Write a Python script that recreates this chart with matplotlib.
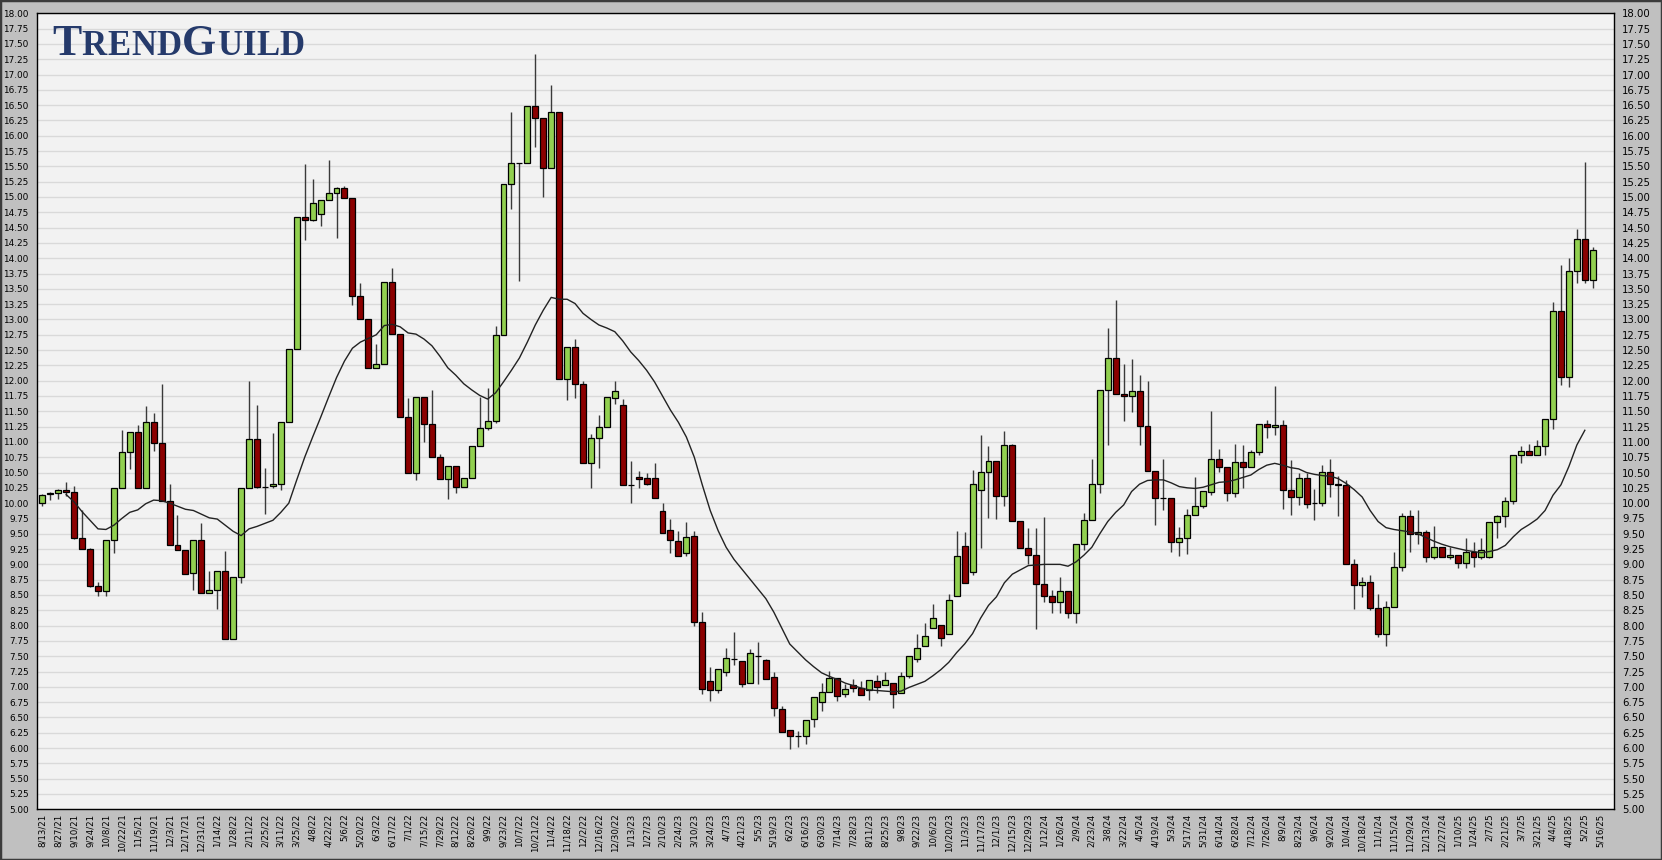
import matplotlib
matplotlib.use("Agg")
import matplotlib.pyplot as plt
import matplotlib.patches as patches
import numpy as np
import pandas as pd

# weekly candles (open, high, low, close)
opens = [10.00, 10.15, 10.17, 10.22, 10.18, 9.43, 9.25, 8.64, 8.57, 9.39,
         10.24, 10.83, 11.16, 10.24, 11.32, 10.98, 10.04, 9.32, 9.23, 8.86,
         9.39, 8.53, 8.58, 8.90, 7.78, 8.79, 10.24, 11.04, 10.27, 10.28,
         10.31, 11.32, 12.51, 14.67, 14.63, 14.72, 14.95, 15.06, 15.14, 14.98,
         13.39, 13.00, 12.20, 12.28, 13.61, 12.76, 11.40, 10.49, 11.73, 11.29,
         10.75, 10.39, 10.60, 10.27, 10.41, 10.93, 11.22, 11.34, 12.74, 15.21,
         15.55, 15.55, 16.48, 16.29, 15.47, 16.39, 12.02, 12.55, 11.94, 10.65,
         11.06, 11.24, 11.72, 11.60, 10.30, 10.43, 10.41, 10.41, 9.87, 9.56,
         9.38, 9.18, 9.47, 8.06, 7.10, 6.95, 7.24, 7.46, 7.43, 7.06,
         7.51, 7.44, 7.16, 6.64, 6.30, 6.20, 6.20, 6.47, 6.76, 6.92,
         7.14, 6.89, 7.03, 6.98, 6.95, 7.10, 7.03, 7.06, 6.90, 7.18,
         7.45, 7.66, 7.96, 8.01, 7.87, 8.48, 9.30, 8.88, 10.22, 10.51,
         10.69, 10.12, 10.95, 9.71, 9.27, 9.15, 8.68, 8.48, 8.38, 8.56,
         8.20, 9.33, 9.72, 10.31, 11.85, 12.37, 11.79, 11.75, 11.83, 11.26,
         10.52, 10.08, 10.08, 9.36, 9.43, 9.80, 9.96, 10.18, 10.72, 10.59,
         10.16, 10.68, 10.59, 10.83, 11.30, 11.24, 11.27, 10.21, 10.10, 10.41,
         10.00, 10.00, 10.51, 10.32, 10.29, 9.00, 8.66, 8.72, 8.28, 7.86,
         8.30, 8.95, 9.79, 9.49, 9.53, 9.12, 9.28, 9.12, 9.16, 9.02,
         9.20, 9.12, 9.12, 9.69, 9.79, 10.03, 10.78, 10.85, 10.79, 10.94,
         11.37, 13.13, 12.06, 13.79, 14.31, 13.64]
highs = [10.15, 10.18, 10.23, 10.34, 10.28, 9.89, 9.26, 8.72, 9.39, 10.24,
         11.19, 11.16, 11.27, 11.59, 11.48, 11.94, 10.32, 9.81, 9.24, 9.39,
         9.67, 8.89, 8.90, 9.22, 8.79, 10.24, 12.00, 11.61, 10.57, 11.14,
         11.32, 12.51, 14.67, 15.54, 15.29, 14.95, 15.60, 15.17, 15.18, 14.98,
         13.60, 13.00, 12.60, 13.61, 13.84, 12.76, 11.72, 11.73, 11.73, 11.85,
         10.80, 10.60, 10.60, 10.41, 10.93, 11.73, 11.88, 12.89, 15.21, 16.39,
         15.56, 16.48, 17.33, 16.29, 16.83, 16.39, 12.55, 12.68, 12.00, 11.13,
         11.44, 11.73, 12.00, 11.70, 10.69, 10.52, 10.50, 10.66, 10.01, 9.74,
         9.55, 9.70, 9.55, 8.23, 7.32, 7.29, 7.63, 7.89, 7.43, 7.61,
         7.73, 7.46, 7.25, 6.68, 6.30, 6.28, 6.46, 6.83, 7.06, 7.26,
         7.14, 7.04, 7.12, 7.10, 7.11, 7.20, 7.24, 7.06, 7.24, 7.50,
         7.87, 8.04, 8.35, 8.01, 8.52, 9.55, 9.53, 10.54, 11.11, 10.94,
         10.69, 11.18, 10.97, 9.71, 9.60, 9.60, 9.77, 8.58, 8.80, 8.56,
         9.33, 9.84, 10.72, 11.85, 12.86, 13.32, 12.28, 12.36, 12.10, 11.99,
         10.52, 10.72, 10.08, 9.61, 9.90, 10.42, 10.20, 11.51, 10.88, 10.59,
         10.96, 10.95, 10.86, 11.30, 11.36, 11.91, 11.35, 10.70, 10.50, 10.50,
         10.23, 10.63, 10.72, 10.45, 10.37, 9.09, 8.80, 8.82, 8.52, 8.40,
         9.20, 9.84, 9.88, 9.88, 9.56, 9.62, 9.28, 9.28, 9.16, 9.43,
         9.36, 9.43, 9.69, 9.80, 10.10, 10.78, 10.94, 10.97, 11.03, 11.37,
         13.28, 13.89, 14.01, 14.47, 15.57, 14.18]
lows = [9.95, 10.05, 10.06, 10.11, 9.42, 9.25, 8.63, 8.48, 8.48, 9.18,
        10.24, 10.55, 10.24, 10.24, 10.85, 10.04, 9.32, 9.23, 8.84, 8.58,
        8.53, 8.53, 8.27, 7.78, 7.78, 8.70, 10.24, 10.25, 9.83, 10.24,
        10.21, 11.32, 12.51, 14.30, 14.60, 14.53, 14.95, 14.33, 14.98, 13.24,
        13.00, 12.20, 12.20, 12.28, 12.76, 11.40, 10.49, 10.38, 11.00, 10.75,
        10.39, 10.07, 10.17, 10.27, 10.41, 10.93, 11.20, 11.31, 12.74, 14.80,
        13.63, 15.55, 15.81, 15.00, 15.47, 12.02, 11.68, 11.71, 10.65, 10.24,
        10.58, 11.24, 11.62, 10.29, 10.00, 10.25, 10.30, 10.08, 9.51, 9.19,
        9.14, 9.14, 8.00, 6.89, 6.77, 6.90, 7.18, 7.36, 7.00, 7.06,
        7.05, 7.13, 6.53, 6.26, 5.98, 6.02, 6.06, 6.35, 6.60, 6.92,
        6.77, 6.83, 6.91, 6.86, 6.78, 6.90, 7.03, 6.66, 6.90, 7.14,
        7.40, 7.66, 7.96, 7.66, 7.87, 8.48, 8.69, 8.83, 9.26, 9.76,
        9.74, 9.95, 9.71, 9.27, 9.00, 7.94, 8.38, 8.20, 8.20, 8.12,
        8.05, 9.24, 9.72, 10.17, 10.95, 11.79, 11.34, 11.49, 10.95, 10.52,
        9.64, 9.88, 9.20, 9.13, 9.17, 9.80, 9.92, 10.14, 10.51, 10.04,
        10.10, 10.25, 10.59, 10.79, 11.07, 11.12, 9.90, 9.80, 9.97, 9.92,
        9.72, 9.96, 10.10, 9.79, 9.00, 8.27, 8.46, 8.25, 7.82, 7.66,
        8.30, 8.90, 9.20, 9.33, 9.04, 9.08, 9.12, 9.08, 8.94, 8.94,
        8.96, 9.08, 9.10, 9.43, 9.61, 9.98, 10.66, 10.79, 10.78, 10.79,
        11.21, 11.93, 11.90, 13.59, 13.60, 13.52]
closes = [10.14, 10.17, 10.22, 10.18, 9.43, 9.25, 8.64, 8.57, 9.39, 10.24,
          10.83, 11.16, 10.24, 11.32, 10.98, 10.04, 9.32, 9.23, 8.84, 9.39,
          8.53, 8.58, 8.90, 7.78, 8.79, 10.24, 11.04, 10.26, 10.26, 10.31,
          11.32, 12.51, 14.67, 14.63, 14.90, 14.95, 15.06, 15.14, 14.98, 13.39,
          13.00, 12.20, 12.28, 13.61, 12.76, 11.40, 10.49, 11.73, 11.29, 10.75,
          10.39, 10.60, 10.27, 10.41, 10.93, 11.22, 11.34, 12.74, 15.21, 15.55,
          15.55, 16.48, 16.29, 15.47, 16.39, 12.02, 12.55, 11.94, 10.65, 11.06,
          11.24, 11.73, 11.83, 10.29, 10.30, 10.39, 10.31, 10.08, 9.51, 9.39,
          9.14, 9.44, 8.06, 6.96, 6.95, 7.29, 7.47, 7.46, 7.04, 7.55,
          7.51, 7.13, 6.65, 6.26, 6.20, 6.20, 6.46, 6.83, 6.91, 7.14,
          6.85, 6.96, 6.98, 6.86, 7.11, 6.99, 7.11, 6.88, 7.18, 7.50,
          7.63, 7.83, 8.12, 7.80, 8.42, 9.14, 8.69, 10.31, 10.51, 10.69,
          10.12, 10.95, 9.71, 9.27, 9.15, 8.68, 8.48, 8.38, 8.56, 8.20,
          9.33, 9.72, 10.31, 11.85, 12.37, 11.79, 11.75, 11.83, 11.26, 10.52,
          10.08, 10.08, 9.36, 9.43, 9.80, 9.96, 10.20, 10.72, 10.59, 10.16,
          10.68, 10.59, 10.83, 11.30, 11.24, 11.27, 10.21, 10.10, 10.41, 9.99,
          10.00, 10.51, 10.32, 10.29, 9.00, 8.66, 8.72, 8.28, 7.86, 8.30,
          8.95, 9.79, 9.49, 9.53, 9.12, 9.28, 9.12, 9.16, 9.02, 9.20,
          9.12, 9.23, 9.69, 9.79, 10.03, 10.78, 10.85, 10.79, 10.94, 11.37,
          13.13, 12.06, 13.79, 14.31, 13.64, 14.13]

# moving average line as drawn on the chart (starts at week 3, ends at week 194)
ma_start = 3
ma_values = [10.14, 10.02, 9.86, 9.72, 9.58, 9.57, 9.64, 9.75, 9.85, 9.89,
             9.99, 10.05, 10.04, 10.00, 9.95, 9.90, 9.88, 9.82, 9.76, 9.74,
             9.64, 9.54, 9.47, 9.58, 9.62, 9.67, 9.72, 9.85, 10.00, 10.38,
             10.75, 11.08, 11.40, 11.73, 12.05, 12.32, 12.53, 12.63, 12.69, 12.75,
             12.90, 12.92, 12.88, 12.78, 12.76, 12.68, 12.57, 12.40, 12.21, 12.09,
             11.95, 11.85, 11.76, 11.70, 11.80, 11.98, 12.17, 12.37, 12.63, 12.91,
             13.15, 13.36, 13.33, 13.33, 13.26, 13.10, 13.00, 12.91, 12.86, 12.80,
             12.65, 12.47, 12.33, 12.17, 11.98, 11.75, 11.52, 11.32, 11.08, 10.75,
             10.30, 9.88, 9.55, 9.28, 9.08, 8.92, 8.76, 8.60, 8.44, 8.22,
             7.96, 7.70, 7.57, 7.44, 7.33, 7.23, 7.17, 7.12, 7.06, 7.02,
             6.98, 6.95, 6.94, 6.93, 6.92, 6.93, 6.99, 7.04, 7.09, 7.18,
             7.28, 7.40, 7.56, 7.70, 7.87, 8.12, 8.33, 8.47, 8.70, 8.84,
             8.91, 8.98, 8.99, 9.00, 9.00, 9.00, 8.97, 9.04, 9.15, 9.28,
             9.50, 9.70, 9.85, 9.97, 10.19, 10.31, 10.37, 10.38, 10.38, 10.33,
             10.27, 10.25, 10.24, 10.26, 10.30, 10.34, 10.35, 10.38, 10.42, 10.46,
             10.55, 10.62, 10.65, 10.62, 10.58, 10.56, 10.50, 10.47, 10.45, 10.44,
             10.40, 10.32, 10.22, 10.10, 9.88, 9.70, 9.60, 9.57, 9.55, 9.53,
             9.50, 9.44, 9.38, 9.33, 9.29, 9.26, 9.23, 9.21, 9.19, 9.21,
             9.24, 9.31, 9.45, 9.57, 9.65, 9.74, 9.88, 10.13, 10.30, 10.60,
             10.95, 11.19]

week_dates = pd.date_range("2021-08-13", periods=197, freq="7D")
tick_labels = [f"{d.month}/{d.day}/{d.year % 100}" for d in week_dates[::2]]
price_ticks = np.arange(5.0, 18.01, 0.25)

GREEN = "#92d050"
RED = "#8b0000"

fig = plt.figure(figsize=(16.62, 8.60), dpi=100, facecolor="#c0c0c0")
ax = fig.add_axes([37 / 1662, 1 - 809.3 / 860, (1614 - 37) / 1662, (809.3 - 13.3) / 860])
ax.set_facecolor("#f2f2f2")

x = np.arange(len(closes))
o = np.array(opens)
c = np.array(closes)
colors = [GREEN if cc > oo else RED for oo, cc in zip(o, c)]

ax.vlines(x, lows, highs, color="#3a3a3a", linewidth=1.0, zorder=2)
ax.bar(x, np.abs(c - o), bottom=np.minimum(o, c), width=0.75, color=colors,
       edgecolor="black", linewidth=0.9, zorder=3)

ma_x = np.arange(ma_start, ma_start + len(ma_values))
ax.plot(ma_x, ma_values, color="#222222", linewidth=1.0, zorder=4)

ax.set_ylim(5.0, 18.0)
ax.set_xlim(-0.67, 197.67)
ax.set_yticks(price_ticks)
ax.set_yticklabels([f"{v:.2f}" for v in price_ticks])
ax.set_xticks(np.arange(0, 197, 2))
ax.set_xticklabels(tick_labels, rotation=90, fontsize=6.2)
ax.grid(axis="y", color="#d9d9d9", linewidth=1.0, zorder=0)
ax.set_axisbelow(True)
ax.tick_params(axis="x", length=0, pad=3)
ax.tick_params(axis="y", length=0, pad=6, left=True, right=True,
               labelleft=True, labelright=True)
for t in ax.yaxis.get_major_ticks():
    t.label1.set_fontsize(6.4)
    t.label2.set_fontsize(7.3)
for s in ax.spines.values():
    s.set_color("black")
    s.set_linewidth(1.0)

# TrendGuild logo, small caps
renderer = fig.canvas.get_renderer()
logo = [("T", 31.5), ("R", 25), ("E", 25), ("N", 25), ("D", 25),
        ("G", 31.5), ("U", 25), ("I", 25), ("L", 25), ("D", 25)]
lx = 52 / 1662
for ch, size in logo:
    t = fig.text(lx, 1 - 55 / 860, ch, fontsize=size, family="Liberation Serif",
                 weight="bold", color="#253a6b", va="baseline", ha="left")
    w = t.get_window_extent(renderer).width
    lx += (w + 0.5) / 1662

fig.patches.append(patches.Rectangle((0, 0), 1, 1, transform=fig.transFigure,
                                     fill=False, edgecolor="#3c3c3c", linewidth=2.5))

fig.savefig("out.png", dpi=100, facecolor=fig.get_facecolor())
